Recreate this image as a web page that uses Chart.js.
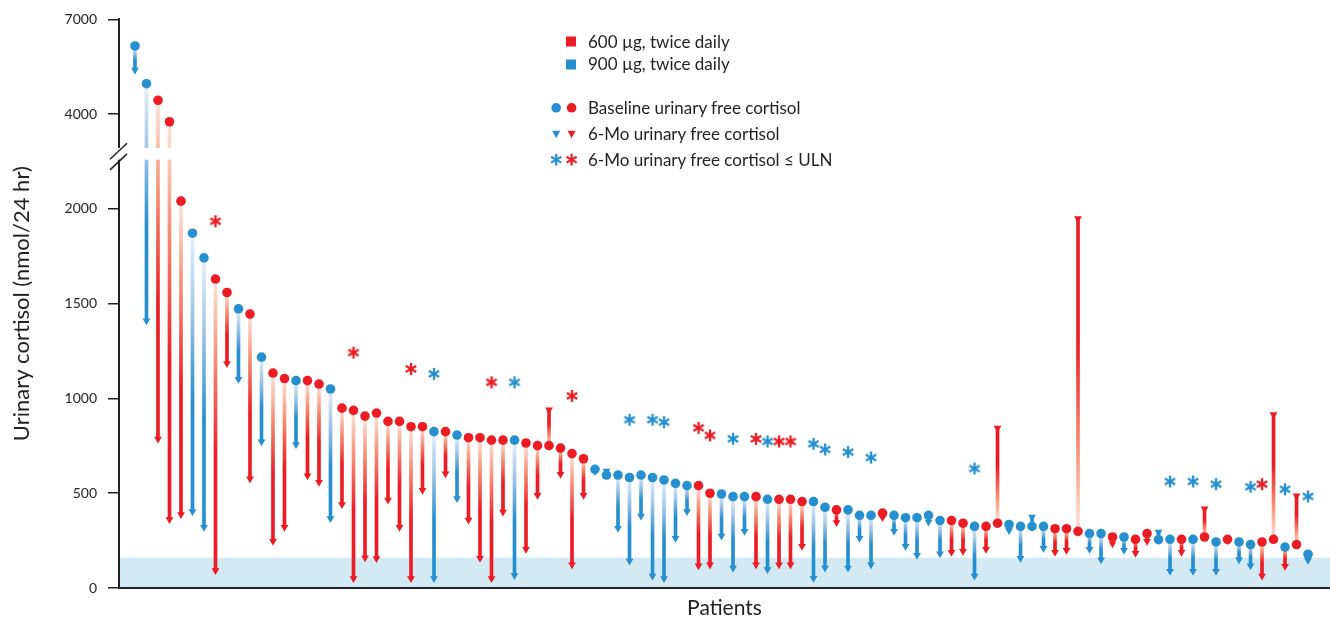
<!DOCTYPE html>
<html>
<head>
<meta charset="utf-8">
<script src="https://cdn.jsdelivr.net/npm/chart.js@4.4.1/dist/chart.umd.min.js"></script>
<style>
  html, body { margin: 0; padding: 0; background: #fff; }
  #wrap { position: relative; width: 1330px; height: 621px; }
  canvas { display: block; }
  .legend-row {
    position: absolute; left: 588px; height: 20px; line-height: 20px;
    font-family: Lato, "Open Sans", sans-serif; font-size: 17px; color: #231f20; white-space: nowrap;
  }
  #legend-symbols { position: absolute; left: 540px; top: 25px; }
</style>
</head>
<body>
<div id="wrap">
  <canvas id="ufc" width="1330" height="621"></canvas>
  <svg id="legend-symbols" width="45" height="150" viewBox="540 25 45 150">
    <rect x="566" y="36.5" width="10" height="10" fill="#ec1c24"></rect>
    <rect x="566" y="59.5" width="10" height="10" fill="#268fd0"></rect>
    <circle cx="556.2" cy="107.8" r="4.8" fill="#268fd0"></circle>
    <circle cx="571.6" cy="107.8" r="4.8" fill="#ec1c24"></circle>
    <path d="M552.2 130.8 L560.2 130.8 L556.2 138.2 Z" fill="#268fd0"></path>
    <path d="M567.6 130.8 L575.6 130.8 L571.6 138.2 Z" fill="#ec1c24"></path>
    <g stroke="#268fd0" stroke-width="2.2">
      <line x1="556.2" y1="153.8" x2="556.2" y2="165.6"></line>
      <line x1="551.1" y1="156.8" x2="561.3" y2="162.6"></line>
      <line x1="551.1" y1="162.6" x2="561.3" y2="156.8"></line>
    </g>
    <g stroke="#ec1c24" stroke-width="2.2">
      <line x1="571.6" y1="153.8" x2="571.6" y2="165.6"></line>
      <line x1="566.5" y1="156.8" x2="576.7" y2="162.6"></line>
      <line x1="566.5" y1="162.6" x2="576.7" y2="156.8"></line>
    </g>
  </svg>
  <div class="legend-row" style="top:32px">600 µg, twice daily</div>
  <div class="legend-row" style="top:54px">900 µg, twice daily</div>
  <div class="legend-row" style="top:98px">Baseline urinary free cortisol</div>
  <div class="legend-row" style="top:124px">6-Mo urinary free cortisol</div>
  <div class="legend-row" style="top:150px">6-Mo urinary free cortisol ≤ ULN</div>
</div>
<script>
const RED = '#ec1c24';
const BLUE = '#268fd0';
const INK = '#231f20';
const FONT = 'Lato, "Open Sans", sans-serif';

// dose per patient (µg twice daily), patients sorted by baseline
const dose = [
  900, 900, 600, 600, 600, 900, 900, 600, 600, 900,
  600, 900, 600, 600, 900, 600, 600, 900, 600, 600,
  600, 600, 600, 600, 600, 600, 900, 600, 900, 600,
  600, 600, 600, 900, 600, 600, 600, 600, 600, 600,
  900, 900, 900, 900, 900, 900, 900, 900, 900, 600,
  600, 900, 900, 900, 600, 900, 600, 600, 600, 900,
  900, 600, 900, 900, 900, 600, 900, 900, 900, 900,
  900, 600, 600, 900, 600, 600, 900, 900, 900, 900,
  600, 600, 600, 900, 900, 600, 900, 600, 600, 900,
  900, 600, 900, 600, 900, 600, 900, 900, 600, 600,
  900, 600, 900,
];

// baseline urinary free cortisol, nmol/24 hr
const baseline = [
  6160, 4965, 4440, 3760, 2041, 1872, 1742, 1630, 1559, 1473,
  1445, 1218, 1134, 1105, 1094, 1094, 1076, 1050, 949, 937,
  907, 923, 879, 879, 851, 851, 825, 825, 807, 793,
  793, 780, 780, 780, 765, 751, 751, 738, 709, 682,
  626, 596, 596, 583, 596, 583, 570, 552, 540, 540,
  500, 496, 482, 482, 482, 468, 468, 468, 456, 456,
  426, 412, 412, 383, 383, 395, 383, 371, 371, 383,
  356, 356, 342, 325, 325, 342, 335, 325, 325, 325,
  313, 313, 299, 287, 287, 269, 269, 257, 287, 255,
  257, 257, 257, 269, 243, 257, 243, 229, 243, 257,
  216, 229, 178,
];

// 6-month urinary free cortisol, nmol/24 hr
const sixMonth = [
  5400, 1410, 786, 362, 388, 404, 320, 92, 1185, 1101,
  577, 771, 246, 320, 757, 592, 558, 367, 440, 50,
  160, 155, 464, 320, 50, 516, 50, 603, 472, 359,
  157, 50, 401, 66, 204, 490, 940, 600, 123, 490,
  615, 617, 315, 142, 380, 63, 50, 262, 404, 118,
  123, 275, 105, 299, 123, 97, 123, 123, 220, 52,
  105, 346, 105, 262, 123, 372, 299, 220, 173, 348,
  181, 189, 194, 63, 204, 844, 304, 157, 374, 210,
  189, 199, 1950, 204, 149, 234, 199, 183, 246, 295,
  89, 189, 89, 418, 89, 250, 149, 118, 63, 916,
  115, 487, 147,
];

// patients (1-based) whose 6-month value is <= ULN
const belowUln = [8, 20, 25, 27, 32, 34, 39, 44, 46, 47, 50, 51, 53, 55, 56, 57, 58,
  60, 61, 63, 65, 74, 91, 93, 95, 98, 99, 101, 103];

const yTickValues = [0, 500, 1000, 1500, 2000, 4000, 7000];
const ULN = 160;

// patient 101 has a red arrow under a blue marker in the source figure
const lineDose = dose.map((d, i) => (i === 100 ? 600 : d));

// broken axis: 0-2000 linear, 4000-7000 compressed above the break
function toDisplay(v) {
  return v <= 2250 ? v : 2500 + (v - 4000) / 6;
}
const BREAK_LOW = 2260;
const BREAK_HIGH = 2322;
const STAR_LIFT = 305;

const colorOf = (d) => (d === 600 ? RED : BLUE);
const fadeStops = {
  600: ['#fde6de', '#f68d70', RED],
  900: ['#e8f0f9', '#9fc5e8', BLUE],
};

function asteriskImage(color) {
  const c = document.createElement('canvas');
  c.width = 16;
  c.height = 16;
  const g = c.getContext('2d');
  g.strokeStyle = color;
  g.lineWidth = 2.3;
  g.translate(8, 8);
  for (let k = 0; k < 3; k++) {
    g.beginPath();
    g.moveTo(0, -6);
    g.lineTo(0, 6);
    g.stroke();
    g.rotate(Math.PI / 3);
  }
  return c;
}
const starImg = { 600: asteriskImage(RED), 900: asteriskImage(BLUE) };

function arrowFill(context) {
  const chart = context.chart;
  const i = context.dataIndex;
  const d = lineDose[i];
  if (!chart.chartArea || i == null) return colorOf(d);
  const y = chart.scales.y;
  const p0 = y.getPixelForValue(toDisplay(baseline[i]));
  const p1 = y.getPixelForValue(toDisplay(sixMonth[i]));
  if (Math.abs(p1 - p0) < 1) return colorOf(d);
  const g = chart.ctx.createLinearGradient(0, p0, 0, p1);
  const s = fadeStops[d];
  g.addColorStop(0, s[0]);
  g.addColorStop(0.28, s[1]);
  g.addColorStop(0.6, s[2]);
  g.addColorStop(1, s[2]);
  return g;
}

const ulnBand = {
  id: 'ulnBand',
  beforeDraw(chart) {
    const { ctx, chartArea, scales } = chart;
    const top = scales.y.getPixelForValue(ULN);
    const bottom = scales.y.getPixelForValue(0);
    ctx.save();
    ctx.fillStyle = '#d3e9f3';
    ctx.fillRect(chartArea.left, top, chartArea.right - chartArea.left, bottom - top);
    ctx.restore();
  },
};

const axisBreak = {
  id: 'axisBreak',
  afterDatasetDraw(chart, args) {
    if (args.meta.type !== 'bar') return;
    const { ctx, chartArea, scales } = chart;
    const top = scales.y.getPixelForValue(BREAK_HIGH);
    const bottom = scales.y.getPixelForValue(BREAK_LOW);
    const left = chartArea.left;
    ctx.save();
    ctx.fillStyle = '#fff';
    ctx.fillRect(left - 3, top, chartArea.right - left + 3, bottom - top);
    ctx.strokeStyle = INK;
    ctx.lineWidth = 1.5;
    [top + 3.3, bottom + 2.2].forEach((c) => {
      ctx.beginPath();
      ctx.moveTo(left - 9, c + 8);
      ctx.lineTo(left + 8, c - 8);
      ctx.stroke();
    });
    ctx.restore();
  },
};

Chart.defaults.font.family = FONT;
Chart.defaults.color = INK;

const idx = baseline.map((_, i) => i);

new Chart(document.getElementById('ufc'), {
  data: {
    datasets: [
      {
        type: 'bar',
        order: 4,
        data: idx.map((i) => ({ x: i, y: [toDisplay(baseline[i]), toDisplay(sixMonth[i])] })),
        barThickness: 3,
        borderWidth: 0,
        backgroundColor: arrowFill,
      },
      {
        type: 'scatter',
        order: 3,
        data: idx.map((i) => ({ x: i, y: toDisplay(sixMonth[i]) })),
        pointStyle: 'triangle',
        rotation: 180,
        pointRadius: 4.5,
        borderWidth: 0,
        backgroundColor: lineDose.map(colorOf),
        borderColor: lineDose.map(colorOf),
      },
      {
        type: 'scatter',
        order: 2,
        data: idx.map((i) => ({ x: i, y: toDisplay(baseline[i]) })),
        pointStyle: 'circle',
        pointRadius: 4.8,
        borderWidth: 0,
        backgroundColor: dose.map(colorOf),
        borderColor: dose.map(colorOf),
      },
      {
        type: 'scatter',
        order: 1,
        data: belowUln.map((p) => ({ x: p - 1, y: toDisplay(baseline[p - 1]) + STAR_LIFT })),
        pointStyle: belowUln.map((p) => starImg[dose[p - 1]]),
        pointRadius: 6,
      },
    ],
  },
  options: {
    responsive: false,
    animation: false,
    events: [],
    layout: { autoPadding: false, padding: { top: 16, right: 0, bottom: 0, left: 0 } },
    plugins: { legend: { display: false }, tooltip: { enabled: false } },
    scales: {
      x: {
        type: 'linear',
        offset: false,
        bounds: 'data',
        min: -1.39,
        max: 103.91,
        grid: { display: false, offset: false },
        ticks: { display: false },
        border: { display: true, color: INK, width: 2 },
        title: { display: true, text: 'Patients', font: { size: 21 }, color: INK, padding: 0 },
        afterFit(scale) { scale.height = 33; },
      },
      y: {
        type: 'linear',
        min: 0,
        max: 3000,
        afterBuildTicks(scale) {
          scale.ticks = yTickValues.map((v) => ({ value: toDisplay(v) }));
        },
        ticks: {
          autoSkip: false,
          padding: 11,
          font: { size: 14 },
          color: INK,
          callback: (value, index) => String(yTickValues[index]),
        },
        grid: { drawOnChartArea: false, drawTicks: true, tickLength: 11, color: INK, lineWidth: 1.5 },
        border: { display: true, color: INK, width: 2 },
        title: {
          display: true,
          text: 'Urinary cortisol (nmol/24 hr)',
          font: { size: 22 },
          color: INK,
          padding: { top: 9, bottom: 0 },
        },
        afterFit(scale) { scale.width = 119; },
      },
    },
  },
  plugins: [ulnBand, axisBreak],
});
</script>
</body>
</html>
